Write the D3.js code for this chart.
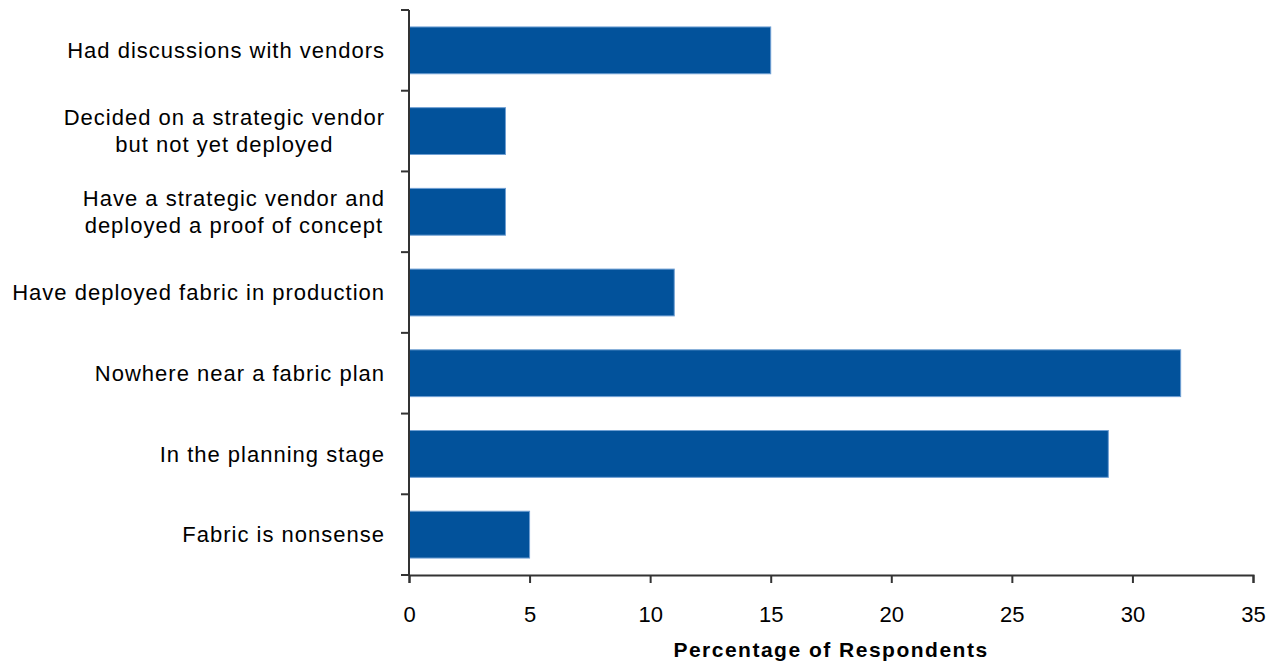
<!DOCTYPE html>
<html>
<head>
<meta charset="utf-8">
<script src="https://cdn.jsdelivr.net/npm/d3@7"></script>
<style>
    body { margin: 0; background: #fff; }
    text { font-family: "Liberation Sans", Arial, sans-serif; fill: #000; }
    .axis path, .axis line { stroke: #333; stroke-width: 2px; }
</style>
</head>
<body>
<div id="chart"></div>
<script>
var categories = [
    "Had discussions with vendors",
    "Decided on a strategic vendor\nbut not yet deployed",
    "Have a strategic vendor and\ndeployed a proof of concept",
    "Have deployed fabric in production",
    "Nowhere near a fabric plan",
    "In the planning stage",
    "Fabric is nonsense"
];
var values = [15, 4, 4, 11, 32, 29, 5];
var xTicks = [0, 5, 10, 15, 20, 25, 30, 35];
var xTitle = "Percentage of Respondents";

var width = 1285, height = 666;
var mLeft = 409, mRight = 1253, mTop = 10, mBottom = 575;

var svg = d3.select("#chart").append("svg")
    .attr("width", width)
    .attr("height", height);

var x = d3.scaleLinear().domain([0, 35]).range([mLeft, mRight]);
var y = d3.scaleBand().domain(categories).range([mTop, mBottom])
    .paddingInner(0.42).paddingOuter(0.21);

svg.selectAll("rect.bar")
    .data(values)
    .enter().append("rect")
    .attr("class", "bar")
    .attr("x", x(0))
    .attr("y", function (d, i) { return y(categories[i]); })
    .attr("width", function (d) { return x(d) - x(0); })
    .attr("height", y.bandwidth())
    .attr("fill", "#02529b")
    .attr("stroke", "#6f9fd3")
    .attr("stroke-width", 1);

// y axis line + tick marks between bands
var yEdges = categories.map(function (c) { return y(c) - y.step() * y.paddingInner() / 2; });
yEdges[0] = mTop;
yEdges.push(mBottom);
svg.append("line")
    .attr("x1", mLeft).attr("x2", mLeft).attr("y1", mTop).attr("y2", mBottom)
    .attr("stroke", "#333").attr("stroke-width", 2);
svg.selectAll("line.ytick")
    .data(yEdges)
    .enter().append("line")
    .attr("class", "ytick")
    .attr("x1", mLeft - 8).attr("x2", mLeft)
    .attr("y1", function (d) { return d; }).attr("y2", function (d) { return d; })
    .attr("stroke", "#333").attr("stroke-width", 2);

// x axis
var xAxis = svg.append("g")
    .attr("class", "axis")
    .attr("transform", "translate(0," + mBottom + ")")
    .call(d3.axisBottom(x).tickValues(xTicks).tickSize(8).tickSizeOuter(8).tickPadding(23));
xAxis.selectAll("text").style("font-size", "22px").attr("fill", "#000");

// category labels
var labelRight = 385;
categories.forEach(function (c) {
    var lines = c.split("\n");
    var cy = y(c) + y.bandwidth() / 2;
    var g = svg.append("text")
        .style("font-size", "22px")
        .style("letter-spacing", "1px")
        .attr("text-anchor", lines.length > 1 ? "middle" : "end");
    lines.forEach(function (l, i) {
        g.append("tspan")
            .attr("x", labelRight)
            .attr("y", cy + (i - (lines.length - 1) / 2) * 27)
            .attr("dy", "0.35em")
            .text(l);
    });
    if (lines.length > 1) {
        var w = g.node().getBBox().width;
        g.selectAll("tspan").attr("x", labelRight - w / 2);
    }
});

svg.append("text")
    .attr("x", (mLeft + mRight) / 2)
    .attr("y", 657)
    .attr("text-anchor", "middle")
    .style("font-size", "21px")
    .style("letter-spacing", "1.5px")
    .style("font-weight", "bold")
    .text(xTitle);
</script>
</body>
</html>
